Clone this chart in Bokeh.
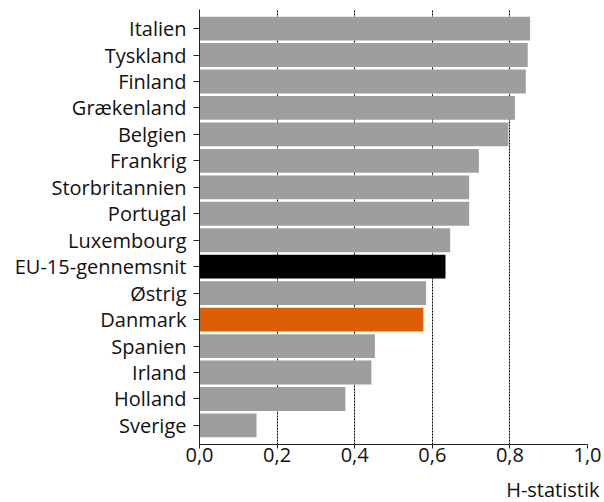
from bokeh.plotting import figure
from bokeh.models import FactorRange, Range1d, FixedTicker, CustomJSTickFormatter, Title, ColumnDataSource
from bokeh.embed import file_html
from bokeh.resources import INLINE

# H-statistik pr. land (top til bund)
countries = ["Italien", "Tyskland", "Finland", "Grækenland", "Belgien", "Frankrig",
             "Storbritannien", "Portugal", "Luxembourg", "EU-15-gennemsnit", "Østrig",
             "Danmark", "Spanien", "Irland", "Holland", "Sverige"]
h_values = [0.852, 0.846, 0.841, 0.813, 0.796, 0.720, 0.695, 0.695, 0.646, 0.634,
            0.584, 0.577, 0.452, 0.443, 0.376, 0.147]
x_ticks = [0.0, 0.2, 0.4, 0.6, 0.8, 1.0]

GREY = "#9e9e9e"
colors = ["#000000" if c == "EU-15-gennemsnit" else "#dc5f08" if c == "Danmark" else GREY
          for c in countries]

FONT = "Open Sans"
FS = "20px"

source = ColumnDataSource(dict(country=countries, h=h_values, color=colors))

p = figure(
    width=604, height=502,
    y_range=FactorRange(factors=countries[::-1], range_padding=0.22,
                        range_padding_units="absolute"),
    x_range=Range1d(0, 1.0),
    output_backend="svg", toolbar_location=None,
    min_border_left=199, min_border_right=17, min_border_top=9, min_border_bottom=20,
)
p.outline_line_color = None

p.hbar(y="country", right="h", left=0, height=0.9, color="color",
       line_color=None, source=source)

# Akser
p.xaxis.ticker = FixedTicker(ticks=x_ticks)
p.xaxis.formatter = CustomJSTickFormatter(code="return tick.toFixed(1).replace('.', ',');")
p.xaxis.major_tick_out = 4
p.xaxis.major_tick_in = 0
p.xaxis.minor_tick_out = 0
p.xaxis.minor_tick_in = 0
p.xaxis.major_label_standoff = -1
p.xaxis.major_label_text_font = FONT
p.xaxis.major_label_text_font_size = FS
p.xaxis.major_label_text_color = "#111111"
# tom aksetitel som afstand til "H-statistik"
p.xaxis.axis_label = " "
p.xaxis.axis_label_standoff = 0
p.xaxis.axis_label_text_font_size = "6px"

p.yaxis.major_tick_out = 6
p.yaxis.major_tick_in = 0
p.yaxis.major_label_standoff = 7
p.yaxis.major_label_text_font = FONT
p.yaxis.major_label_text_font_size = FS
p.yaxis.major_label_text_color = "#111111"

for ax in (p.xaxis, p.yaxis):
    ax.axis_line_color = "#222222"
    ax.major_tick_line_color = "#222222"

# Gitterlinjer
p.ygrid.grid_line_color = None
p.xgrid.ticker = FixedTicker(ticks=x_ticks[1:])
p.xgrid.grid_line_color = "#000000"
p.xgrid.grid_line_dash = "2 1"
p.xgrid.grid_line_width = 1

p.add_layout(Title(text="H-statistik", align="right", offset=-12, standoff=0,
                   text_font=FONT, text_font_size=FS, text_font_style="normal",
                   text_color="#111111"), "below")

open("out.html", "w").write(file_html(p, INLINE))
